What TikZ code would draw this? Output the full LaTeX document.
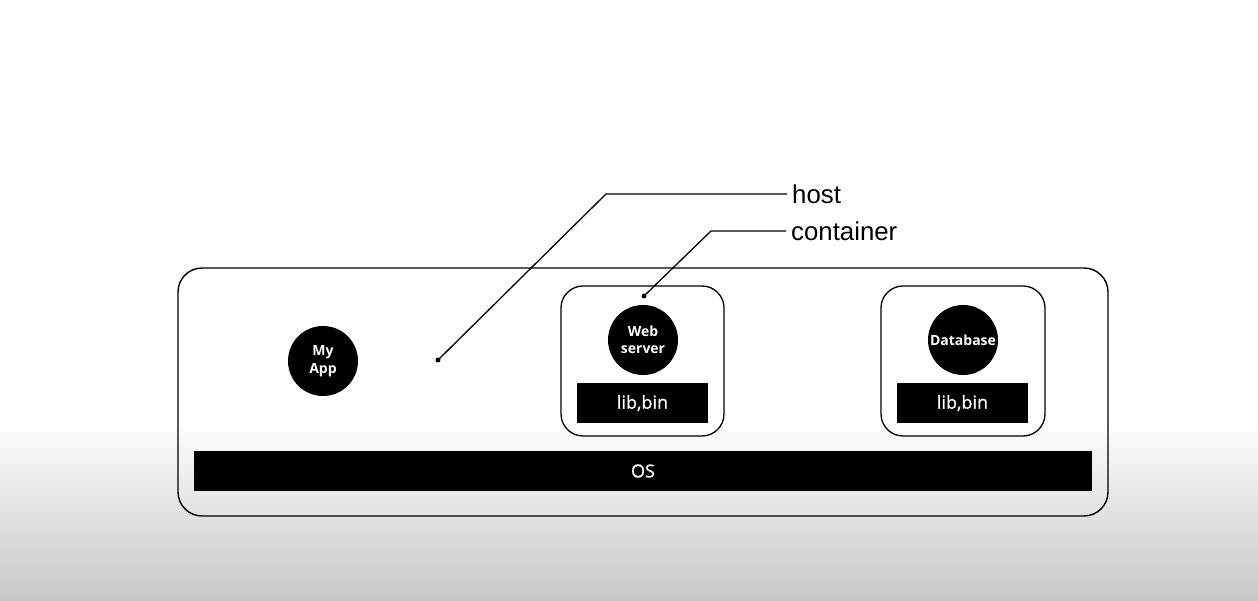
\documentclass[tikz,border=0pt]{standalone}
\usepackage{fontspec}
\setmainfont{Liberation Sans}
\newfontfamily\lblfont{Open Sans}
\newfontfamily\medfont[FakeBold=0.8]{Open Sans}
\begin{document}
\begin{tikzpicture}[x=1pt,y=-1pt,
  hostbox/.style={draw=black,line width=1.4pt,rounded corners=24pt},
  contbox/.style={draw=black,line width=1.3pt,rounded corners=22pt},
  app/.style={circle,fill=black,minimum size=70pt,inner sep=0pt,text=white,font=\lblfont\bfseries\fontsize{14}{17.5}\selectfont,align=center},
  libbox/.style={fill=black,minimum width=131pt,minimum height=40pt,inner sep=0pt,text=white,font=\medfont\fontsize{18}{20}\selectfont},
  leader/.style={draw=black,line width=1.3pt},
  lbl/.style={anchor=west,inner sep=0pt,font=\fontsize{25.8}{28}\selectfont}
]
\useasboundingbox (0,0) rectangle (1258,601);
\fill[white] (0,0) rectangle (1258,420);
\shade[top color=white,bottom color=black!22] (0,420) rectangle (1258,601);

% host
\draw[hostbox] (178,268) rectangle (1108,516);
% containers
\draw[contbox] (561,286) rectangle (724,436);
\draw[contbox] (881,286) rectangle (1045,436);

\node[app] (myapp) at (323,361) {My\\App};
\node[app] (web) at (643,340) {Web\\server};
\node[app] (db) at (963,340) {Database};

\node[libbox] (lib1) at (642.5,403) {lib,bin};
\node[libbox] (lib2) at (962.5,403) {lib,bin};

\node[fill=black,minimum width=898pt,minimum height=40pt,inner sep=0pt,text=white,font=\medfont\fontsize{18}{20}\selectfont] (os) at (643,471) {OS};

% leaders
\coordinate (hdot) at (438,360);
\coordinate (hbend) at (606,194);
\coordinate (cdot) at (644,296);
\coordinate (cbend) at (711,231);
\node[lbl] (host) at (792,194) {host};
\node[lbl] (cont) at (791,231) {container};
\draw[leader] (hdot) -- (hbend) -- ([xshift=-5pt]hbend -| host.west);
\draw[leader] (cdot) -- (cbend) -- ([xshift=-5pt]cbend -| cont.west);
\fill (hdot) circle (2.5pt);
\fill (cdot) circle (2.5pt);
\end{tikzpicture}
\end{document}
